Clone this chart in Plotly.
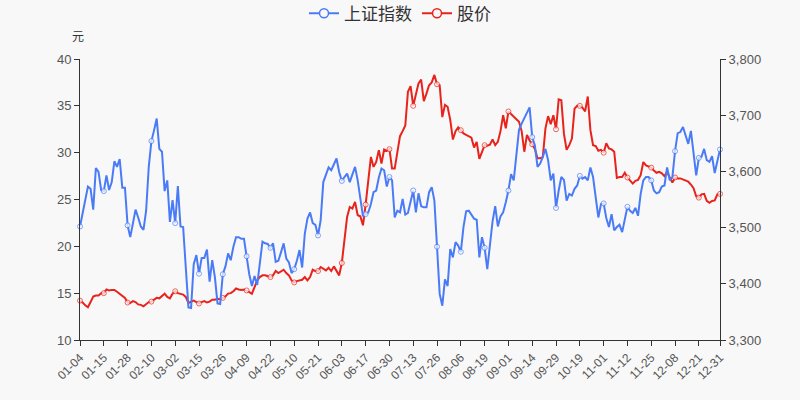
import pandas as pd
import plotly.graph_objects as go

# ---- data ----
year = 2021
holidays = ["2021-01-01", "2021-02-11", "2021-02-12", "2021-02-15", "2021-02-16",
            "2021-02-17", "2021-04-05", "2021-05-03", "2021-05-04", "2021-05-05",
            "2021-06-14", "2021-09-20", "2021-09-21", "2021-10-01", "2021-10-04",
            "2021-10-05", "2021-10-06", "2021-10-07"]
days = pd.bdate_range(f"{year}-01-01", f"{year}-12-31")
days = [d for d in days if d.strftime("%Y-%m-%d") not in holidays]
dates = [d.strftime("%m-%d") for d in days]

sh_index = [
    3502, 3524, 3548, 3573, 3569, 3532, 3606, 3599, 3567, 3565,
    3593, 3567, 3581, 3618, 3608, 3622, 3571, 3571, 3504, 3483,
    3507, 3532, 3518, 3502, 3496, 3530, 3608, 3654, 3673, 3694,
    3640, 3635, 3565, 3584, 3510, 3549, 3508, 3574, 3502, 3501,
    3429, 3358, 3357, 3435, 3451, 3418, 3446, 3446, 3461, 3404,
    3442, 3412, 3365, 3364, 3417, 3431, 3454, 3442, 3466, 3483,
    3483, 3480, 3480, 3449, 3417, 3396, 3414, 3398, 3435, 3475,
    3472, 3471, 3464, 3472, 3439, 3441, 3456, 3472, 3445, 3438,
    3419, 3426, 3441, 3460, 3429, 3489, 3516, 3527, 3508, 3505,
    3486, 3513, 3581, 3593, 3607, 3602, 3613, 3623, 3599, 3583,
    3590, 3596, 3581, 3593, 3608, 3584, 3549, 3520, 3524, 3527,
    3542, 3563, 3566, 3589, 3605, 3602, 3573, 3590, 3584, 3518,
    3530, 3527, 3551, 3523, 3526, 3545, 3566, 3527, 3561, 3538,
    3536, 3536, 3563, 3572, 3548, 3466, 3382, 3361, 3408, 3396,
    3462, 3447, 3474, 3468, 3457, 3501, 3529, 3530, 3524, 3516,
    3514, 3447, 3483, 3464, 3426, 3465, 3511, 3538, 3502, 3520,
    3527, 3545, 3566, 3595, 3584, 3629, 3674, 3685, 3694, 3703,
    3714, 3661, 3646, 3608, 3614, 3626, 3640, 3620, 3584, 3596,
    3535, 3566, 3590, 3585, 3548, 3560, 3557, 3569, 3575, 3592,
    3587, 3590, 3584, 3607, 3590, 3554, 3518, 3542, 3543, 3517,
    3501, 3524, 3495, 3501, 3505, 3492, 3518, 3537, 3530, 3526,
    3535, 3521, 3560, 3584, 3590, 3590, 3584, 3566, 3561, 3563,
    3573, 3575, 3607, 3584, 3590, 3636, 3668, 3670, 3679, 3662,
    3649, 3672, 3629, 3593, 3624, 3626, 3640, 3620, 3617, 3627,
    3597, 3620, 3639,
]

price = [
    14.2, 14.0, 13.7, 13.5, 14.05, 14.65, 14.75, 14.75, 15.0, 15.0,
    15.4, 15.3, 15.35, 15.35, 15.15, 14.95, 14.75, 14.5, 14.0, 13.95,
    14.15, 14.05, 13.8, 13.75, 13.6, 13.8, 14.05, 14.1, 14.3, 14.5,
    14.45, 14.75, 14.95, 14.6, 14.45, 14.95, 15.2, 15.0, 14.95, 14.85,
    14.6, 13.95, 14.1, 14.2, 14.05, 13.9, 14.05, 14.15, 14.0, 14.1,
    14.3, 14.3, 14.4, 14.35, 14.5, 14.65, 14.95, 15.0, 15.2, 15.5,
    15.4, 15.35, 15.4, 15.29, 15.11, 14.94, 15.65, 16.36, 16.72, 16.9,
    16.9, 16.79, 16.72, 16.9, 17.36, 17.14, 17.36, 17.5, 17.14, 16.9,
    16.36, 16.15, 16.29, 16.36, 16.43, 16.72, 16.36, 16.72, 17.5, 17.36,
    17.36, 17.79, 17.61, 17.43, 17.72, 17.36, 17.86, 17.36, 16.9, 18.22,
    20.64, 23.14, 24.2, 24.03, 24.74, 23.32, 23.2, 22.25, 24.46, 27.24,
    29.55, 28.48, 29.02, 30.27, 28.84, 30.34, 30.2, 30.37, 28.3, 28.3,
    29.9, 31.76, 32.3, 32.9, 36.5, 37.1, 35.0, 36.3, 37.4, 37.8,
    35.5, 36.3, 37.2, 37.5, 38.3, 37.3, 37.2, 33.8, 35.1, 34.9,
    33.5, 31.4, 32.3, 32.7, 32.4, 32.05, 31.9, 31.76, 31.6, 30.55,
    31.16, 29.34, 30.1, 30.8, 30.75, 30.85, 31.4, 30.8, 31.16, 32.3,
    34.0, 32.6, 34.4, 34.1, 33.8, 33.5, 33.3, 32.3, 30.1, 31.9,
    31.3, 30.9, 30.4, 29.4, 29.4, 29.55, 32.6, 33.9, 33.05, 34.0,
    32.5, 35.7, 35.6, 32.0, 30.3, 30.8, 31.5, 34.7, 35.0, 35.0,
    34.8, 34.4, 36.0, 32.4, 30.8, 30.7, 30.2, 30.3, 30.0, 31.0,
    30.45, 30.35, 30.1, 27.3, 27.4, 27.4, 27.85, 27.35, 27.05, 26.7,
    27.0, 27.1, 27.6, 29.0, 28.65, 28.55, 28.4, 28.1, 27.85, 27.95,
    27.8, 27.5, 27.95, 27.35, 26.8, 27.35, 27.25, 27.25, 27.15, 27.05,
    26.9, 26.6, 26.2, 25.35, 25.2, 25.55, 25.6, 24.85, 24.65, 24.85,
    24.9, 25.55, 25.6,
]

label_step = 9
tick_labels = dates[::label_step] + [dates[-1]]

n = len(dates)
assert n == len(sh_index) == len(price), (n, len(sh_index), len(price))

show = [(i % label_step == 0) or (i == n - 1) for i in range(n)]
msize = [5 if s else 0 for s in show]
mline = [1 if s else 0 for s in show]

BLUE = "#4a7bf7"
RED = "#e8231c"
BG = "#f8f8f8"
FONT = "Liberation Sans, Noto Sans CJK SC, sans-serif"

fig = go.Figure()
fig.add_trace(go.Scatter(
    x=dates, y=sh_index, name="上证指数", yaxis="y2", mode="lines+markers",
    line=dict(color=BLUE, width=2),
    marker=dict(symbol="circle", size=msize, color="#ffffff",
                line=dict(color=BLUE, width=mline)),
    cliponaxis=False, showlegend=False,
))
fig.add_trace(go.Scatter(
    x=dates, y=price, name="股价", yaxis="y", mode="lines+markers",
    line=dict(color=RED, width=2),
    marker=dict(symbol="circle", size=msize, color="#ffffff",
                line=dict(color=RED, width=mline)),
    cliponaxis=False, showlegend=False,
))
# legend-only entries (line with hollow circle icon)
for name, col, ax in [("上证指数", BLUE, "y2"), ("股价", RED, "y")]:
    fig.add_trace(go.Scatter(
        x=[None], y=[None], name=name, yaxis=ax, mode="lines+markers",
        line=dict(color=col, width=2),
        marker=dict(symbol="circle", size=9, color=BG, line=dict(color=col, width=1.5)),
        showlegend=True,
    ))

fig.update_layout(
    width=800, height=400,
    paper_bgcolor=BG, plot_bgcolor=BG,
    margin=dict(l=80, r=80, t=59, b=60, autoexpand=False),
    font=dict(family=FONT, size=13, color="#555"),
    showlegend=True,
    legend=dict(orientation="h", x=0.5, xanchor="center", yref="paper",
                y=1.225, yanchor="top", font=dict(size=17, color="#333"),
                itemwidth=30, tracegroupgap=0, bgcolor="rgba(0,0,0,0)"),
    xaxis=dict(type="category", range=[0, n - 1], tickmode="array",
               tickvals=tick_labels, ticktext=tick_labels, tickangle=-45,
               showgrid=False, zeroline=False, showline=True, linecolor="#333",
               linewidth=1, ticks="outside", ticklen=5, tickcolor="#333",
               tickfont=dict(size=12, color="#555"), automargin=False),
    yaxis=dict(range=[10, 40], dtick=5, showgrid=False, zeroline=False,
               showline=True, linecolor="#333", linewidth=1, ticks="outside",
               ticklen=5, tickcolor="#333", tickfont=dict(size=13, color="#555"),
               automargin=False),
    yaxis2=dict(range=[3300, 3800], dtick=100, overlaying="y", side="right",
                tickformat=",d", showgrid=False, zeroline=False, showline=True,
                linecolor="#333", linewidth=1, ticks="outside", ticklen=5,
                tickcolor="#333", tickfont=dict(size=13, color="#555"),
                automargin=False),
    annotations=[dict(text="元", xref="paper", yref="paper", x=0, y=1,
                      xanchor="center", yanchor="middle",
                      xshift=-2, yshift=22, showarrow=False,
                      font=dict(size=12, color="#333"))],
)

fig.write_html("out.html")
